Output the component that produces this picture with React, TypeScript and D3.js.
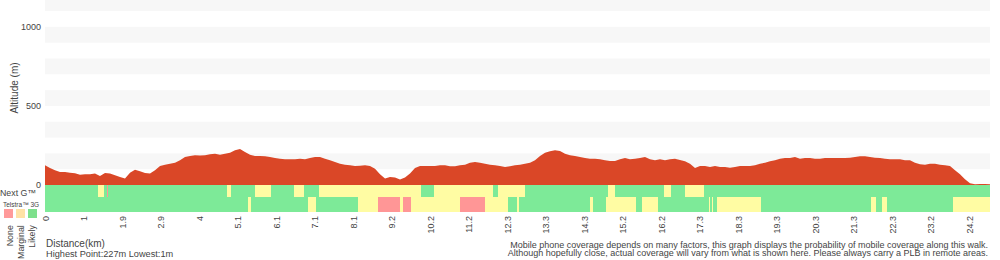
import React from 'react';
import * as d3 from 'd3';

// Altitude (m) sampled evenly along the walk (190 samples)
const elevation: number[] = [
  125, 108, 93, 82, 82, 78, 74, 65, 68, 68,
  72, 57, 76, 73, 61, 51, 41, 78, 97, 87,
  76, 72, 93, 120, 128, 135, 141, 156, 177, 184,
  188, 186, 188, 194, 198, 192, 198, 204, 220, 227,
  209, 192, 184, 184, 182, 177, 171, 166, 163, 163,
  163, 166, 163, 171, 177, 177, 166, 156, 146, 135,
  128, 125, 120, 122, 125, 120, 103, 68, 41, 51,
  47, 34, 47, 72, 108, 120, 120, 120, 120, 125,
  125, 118, 118, 125, 128, 141, 146, 141, 135, 128,
  125, 120, 114, 118, 125, 128, 135, 141, 156, 184,
  204, 213, 220, 215, 198, 188, 184, 177, 171, 166,
  166, 163, 156, 152, 152, 163, 171, 163, 166, 171,
  177, 163, 156, 163, 156, 163, 166, 158, 150, 135,
  108, 120, 120, 114, 120, 114, 114, 109, 114, 120,
  120, 120, 125, 135, 141, 150, 156, 166, 171, 171,
  177, 166, 171, 171, 166, 166, 171, 171, 171, 171,
  171, 173, 177, 182, 182, 177, 173, 171, 166, 163,
  163, 163, 156, 156, 141, 131, 128, 135, 135, 128,
  125, 120, 93, 68, 36, 11, 4, 6, 6, 4,
];

// Distance tick labels (km), one every tickStep samples
const tickLabels: string[] = [
  '0', '1', '1.9', '2.9', '4', '5.1', '6.1', '7.1', '8.1', '9.2', '10.2', '11.2',
  '12.3', '13.3', '14.3', '15.2', '16.2', '17.3', '18.3', '19.3', '20.3', '21.3',
  '22.3', '23.2', '24.2',
];
const tickStep = 7.7;
const tickOffset = 0.1;

const yTicks: number[] = [0, 500, 1000];

type Level = 'none' | 'marginal' | 'likely';

// Coverage runs: [start sample, end sample, level]
const nextG: [number, number, Level][] = [
  [0, 10.66, 'likely'],
  [10.66, 11.8, 'marginal'],
  [11.8, 12.46, 'likely'],
  [12.46, 12.66, 'none'],
  [12.66, 36.34, 'likely'],
  [36.34, 37.2, 'marginal'],
  [37.2, 42, 'likely'],
  [42, 45.2, 'marginal'],
  [45.2, 49.8, 'likely'],
  [49.8, 51.8, 'marginal'],
  [51.8, 54.8, 'likely'],
  [54.8, 75.2, 'marginal'],
  [75.2, 77.8, 'likely'],
  [77.8, 89.54, 'marginal'],
  [89.54, 90.6, 'likely'],
  [90.6, 96, 'marginal'],
  [96, 112.54, 'likely'],
  [112.54, 114, 'marginal'],
  [114, 123.8, 'likely'],
  [123.8, 125.2, 'marginal'],
  [125.2, 128, 'likely'],
  [128, 131.8, 'marginal'],
  [131.8, 189, 'likely'],
];

const telstra3G: [number, number, Level][] = [
  [0, 40.54, 'likely'],
  [40.54, 41.2, 'marginal'],
  [41.2, 52.54, 'likely'],
  [52.54, 54.14, 'marginal'],
  [54.14, 62.54, 'likely'],
  [62.54, 66.54, 'marginal'],
  [66.54, 71, 'none'],
  [71, 71.6, 'marginal'],
  [71.6, 73.2, 'none'],
  [73.2, 83, 'marginal'],
  [83, 88, 'none'],
  [88, 92.6, 'marginal'],
  [92.6, 94.34, 'likely'],
  [94.34, 94.74, 'marginal'],
  [94.74, 109, 'likely'],
  [109, 109.54, 'marginal'],
  [109.54, 112.2, 'likely'],
  [112.2, 118.2, 'marginal'],
  [118.2, 119.4, 'likely'],
  [119.4, 122.54, 'marginal'],
  [122.54, 132.86, 'likely'],
  [132.86, 133.06, 'marginal'],
  [133.06, 133.46, 'likely'],
  [133.46, 133.66, 'marginal'],
  [133.66, 134.3, 'likely'],
  [134.3, 143.2, 'marginal'],
  [143.2, 165.14, 'likely'],
  [165.14, 166.14, 'marginal'],
  [166.14, 167.34, 'likely'],
  [167.34, 168.34, 'marginal'],
  [168.34, 181.6, 'likely'],
  [181.6, 189, 'marginal'],
];

const legendLevels: Level[] = ['none', 'marginal', 'likely'];
const legendLabels: string[] = ['None', 'Marginal', 'Likely'];

const barColor: Record<Level, string> = {
  none: '#ff9696',
  marginal: '#fffca3',
  likely: '#7dea98',
};
const legendColor: Record<Level, string> = {
  none: '#ff9a9a',
  marginal: '#ffe2a6',
  likely: '#7de08c',
};

const FONT = '"Liberation Sans", Arial, Helvetica, sans-serif';
const TXT = '#444';

export default function App() {
  const W = 1000;
  const H = 260;
  const x = d3.scaleLinear().domain([0, elevation.length - 1]).range([45, 990]);
  const y = d3.scaleLinear().domain([0, 1170]).range([185, 0]);

  const bands: number[] = d3.range(100, 1170, 200);

  const area = d3
    .area<number>()
    .x((_, i) => x(i))
    .y0(y(0))
    .y1((d) => y(d));

  const row1Top = 185;
  const row1H = 12.3;
  const row2Top = row1Top + row1H;
  const row2H = 15;

  const renderRow = (runs: [number, number, Level][], top: number, h: number, key: string) =>
    runs.map(([s, e, lv], i) => (
      <rect
        key={key + i}
        x={x(s)}
        y={top}
        width={Math.max(0, x(e) - x(s))}
        height={h}
        fill={barColor[lv]}
        shapeRendering="crispEdges"
      />
    ));

  return (
    <svg
      width={W}
      height={H}
      style={{ position: 'absolute', left: 0, top: 0, background: '#fff' }}
      fontFamily={FONT}
    >
      {bands.map((b) => (
        <rect
          key={b}
          x={x(0)}
          y={y(Math.min(b + 100, 1170))}
          width={x(elevation.length - 1) - x(0)}
          height={y(b) - y(Math.min(b + 100, 1170))}
          fill="#f7f7f7"
        />
      ))}
      <path d={area(elevation) || ''} fill="#da4727" />

      {renderRow(nextG, row1Top, row1H, 'n')}
      {renderRow(telstra3G, row2Top, row2H, 't')}

      {yTicks.map((t) => (
        <text
          key={t}
          x={41}
          y={y(t)}
          dy="0.33em"
          textAnchor="end"
          fontSize={9}
          fill={TXT}
        >
          {t}
        </text>
      ))}
      <text
        transform={`translate(17.5, 88) rotate(-90)`}
        textAnchor="middle"
        fontSize={10}
        fill={TXT}
      >
        Altitude (m)
      </text>

      {tickLabels.map((lab, i) => {
        const px = x(tickOffset + i * tickStep);
        return (
          <text
            key={lab + i}
            transform={`translate(${px + 3.2}, 216) rotate(-90)`}
            textAnchor="end"
            fontSize={9}
            fill={TXT}
          >
            {lab}
          </text>
        );
      })}

      <text x={0} y={196} fontSize={8.8} fill={TXT}>
        Next G™
      </text>
      <text x={3} y={207} fontSize={6.5} fill={TXT}>
        Telstra™ 3G
      </text>
      {legendLevels.map((lv, i) => (
        <g key={lv}>
          <rect x={4 + i * 12} y={209} width={9} height={9} fill={legendColor[lv]} />
          <text
            transform={`translate(${12.8 + i * 11.3}, 225.2) rotate(-90)`}
            textAnchor="end"
            fontSize={8.8}
            fill={TXT}
          >
            {legendLabels[i]}
          </text>
        </g>
      ))}

      <text x={46} y={247} fontSize={10} fill={TXT}>
        Distance(km)
      </text>
      <text x={46} y={257} fontSize={9.2} fill={TXT}>
        Highest Point:227m Lowest:1m
      </text>
      <text x={988} y={247.5} fontSize={9} textAnchor="end" fill={TXT}>
        Mobile phone coverage depends on many factors, this graph displays the probability of mobile coverage along this walk.
      </text>
      <text x={988} y={256} fontSize={9} textAnchor="end" fill={TXT}>
        Although hopefully close, actual coverage will vary from what is shown here. Please always carry a PLB in remote areas.
      </text>
    </svg>
  );
}
